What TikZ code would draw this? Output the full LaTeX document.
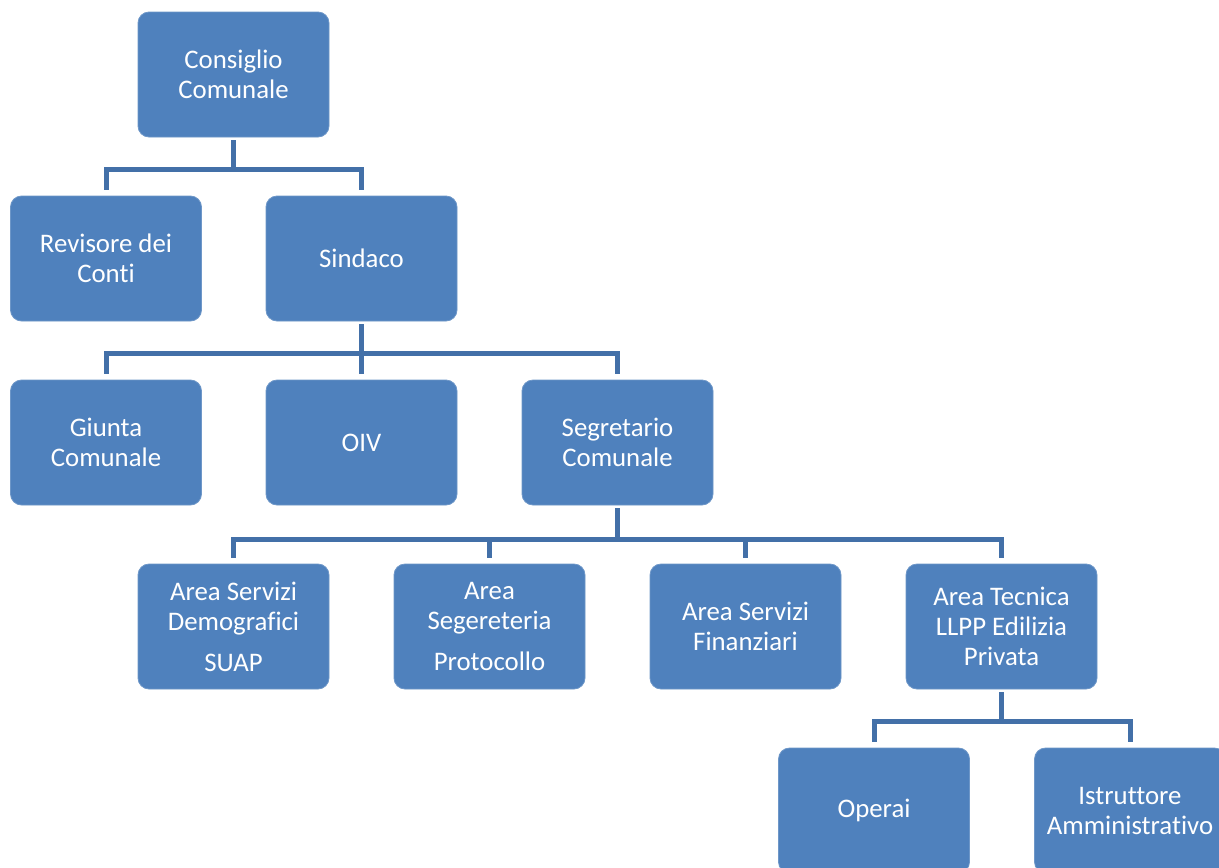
\documentclass[tikz,border=0pt]{standalone}
\usepackage{fontspec}
\setmainfont{Carlito}[Ligatures=NoCommon]
\definecolor{boxblue}{HTML}{4F81BD}
\definecolor{linkblue}{HTML}{4370A8}
\definecolor{edgeblue}{HTML}{6E97C8}
\begin{document}
\begin{tikzpicture}[x=1pt,y=-1pt,
  orgbox/.style={fill=boxblue, draw=edgeblue, line width=0.8pt, rounded corners=11pt,
    minimum width=191pt, minimum height=125pt, inner sep=2pt, align=center,
    text=white, font=\fontsize{26.8}{30}\selectfont},
  conn/.style={draw=linkblue, line width=5pt}]
\useasboundingbox (0,0) rectangle (1219,868);
\clip (0,0) rectangle (1219,868);
\fill[white] (0,0) rectangle (1219,868);

\node[orgbox] (cc) at (233.5,74.5) {Consiglio\\Comunale};
\node[orgbox] (rev) at (106,258.5) {Revisore dei\\Conti};
\node[orgbox] (sin) at (361.5,258.5) {Sindaco};
\node[orgbox] (giu) at (106,442.5) {Giunta\\Comunale};
\node[orgbox] (oiv) at (361.5,442.5) {OIV};
\node[orgbox] (seg) at (617.5,442.5) {Segretario\\Comunale};
\node[orgbox] (asd) at (233.5,626.5) {Area Servizi\\Demografici\\[11pt]SUAP};
\node[orgbox] (ase) at (489.5,626.5) {Area\\Segereteria\\[11pt]Protocollo};
\node[orgbox] (asf) at (745.5,626.5) {Area Servizi\\Finanziari};
\node[orgbox] (atc) at (1001.5,626.5) {Area Tecnica\\LLPP Edilizia\\Privata};
\node[orgbox] (ope) at (874,810.5) {Operai};
\node[orgbox] (ist) at (1130,810.5) {Istruttore\\Amministrativo};

\foreach \p/\c/\d in {cc/rev/29, cc/sin/29, sin/giu/29, sin/oiv/29, sin/seg/29,
  seg/asd/31, seg/ase/31, seg/asf/31, seg/atc/31, atc/ope/29, atc/ist/29}
  \draw[conn] ([yshift=-3pt]\p.south) -- ++(0,\d) -| ([yshift=6pt]\c.north);
\end{tikzpicture}
\end{document}
